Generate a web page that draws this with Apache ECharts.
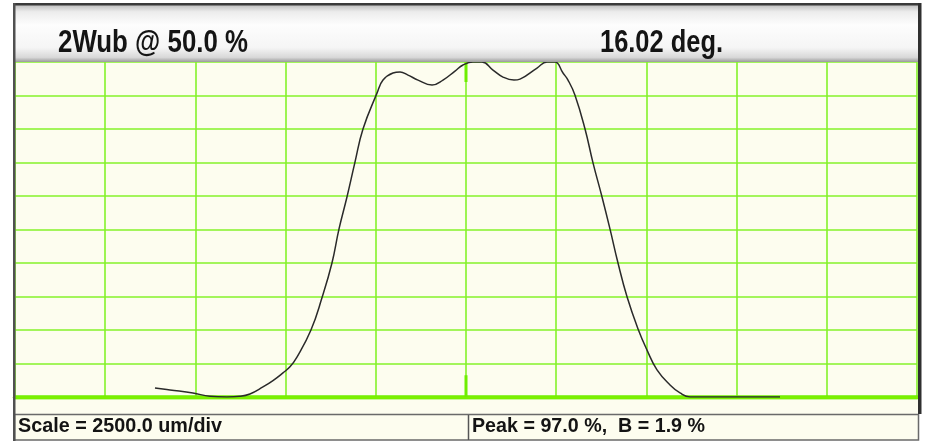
<!DOCTYPE html>
<html><head><meta charset="utf-8">
<script src="https://cdn.jsdelivr.net/npm/echarts@6/dist/echarts.min.js"></script>
<style>html,body{margin:0;padding:0;background:#fff;}#c{width:926px;height:442px;}</style>
</head><body><div id="c"></div>
<script>
// ---- data (x in um, y in % of peak) ----
const xUm = [-8620,-8205,-7568,-7097,-6625,-6265,-5988,-5628,-5350,-5073,-4879,-4685,-4297,-3992,-3715,-3521,-3299,-3077,-2855,-2467,-2300,-2024,-1829,-1608,-1330,-942,-638,-305,-83,194,444,748,1026,1330,1497,1968,2245,2467,2689,2827,3021,3299,3520,3770,3992,4213,4463,4768,5017,5294,5655,5932,6209,8703];
const yPct = [2.7,2.1,1.2,0.2,0,0.2,0.9,3.0,4.9,7.2,9.0,11.9,20.0,29.6,40.0,50.1,59.7,70.1,80.0,90.7,94.6,96.7,97.0,96.1,94.6,93.1,94.6,97.3,99.1,100,100,97.6,95.5,94.6,94.9,98.2,100,100,96.7,94.6,90.1,80.0,69.9,59.7,50.1,40.0,29.9,20.3,14.0,8.1,3.6,1.2,0,0];
const centerMarkLow = [[0,0],[0,6.5]];
const centerMarkHigh = [[0,94],[0,100]];
const xMin = -12500, xMax = 12500, xStep = 2500;
const yMin = 0, yMax = 100, yStep = 10;
const headerLeft = '2Wub @ 50.0 %';
const headerRight = '16.02 deg.';
const footerLeft = 'Scale = 2500.0 um/div';
const footerRight = 'Peak = 97.0 %,  B = 1.9 %';

// ---- helpers ----
const ctx = document.createElement('canvas').getContext('2d');
function fitScale(text, weight, size, family, target) {
  ctx.font = weight + ' ' + size + 'px ' + family;
  return target / ctx.measureText(text).width;
}
const FAM = '"Liberation Sans", Arial, sans-serif';
const IVORY = '#FDFDEF';
const GREEN = '#84F22A';

const chart = echarts.init(document.getElementById('c'), null, {renderer: 'canvas'});
const curve = xUm.map((x, i) => [x, yPct[i]]);

function txt(text, x, y, size, weight, target, sy) {
  return {
    type: 'text', x: x, y: y, z: 100,
    scaleX: fitScale(text, weight, size, FAM, target), scaleY: sy || 1,
    style: {text: text, fontSize: size, fontWeight: weight, fontFamily: FAM,
            fill: '#141414', align: 'left', verticalAlign: 'middle'}
  };
}

chart.setOption({
  animation: false,
  backgroundColor: '#ffffff',
  grid: {left: 15, right: 9, top: 62, bottom: 45, show: true,
         backgroundColor: IVORY, borderWidth: 0},
  xAxis: [{
    type: 'value', min: xMin, max: xMax, interval: xStep,
    axisLabel: {show: false}, axisTick: {show: false},
    axisLine: {show: true, onZero: false, lineStyle: {color: '#6EEE00', width: 4.5}},
    splitLine: {show: true, lineStyle: {color: GREEN, width: 1.6}}
  }, {
    type: 'value', position: 'top', min: xMin, max: xMax, interval: xStep,
    axisLabel: {show: false}, axisTick: {show: false},
    axisLine: {show: true, lineStyle: {color: '#7CF000', width: 2.5}},
    splitLine: {show: false}
  }],
  yAxis: {
    type: 'value', min: yMin, max: yMax, interval: yStep,
    axisLabel: {show: false}, axisTick: {show: false}, axisLine: {show: false},
    splitLine: {show: true, lineStyle: {color: GREEN, width: 1.6}}
  },
  series: [
    {type: 'line', data: centerMarkLow, showSymbol: false, silent: true, z: 1,
     lineStyle: {color: '#6EEE00', width: 3}},
    {type: 'line', data: centerMarkHigh, showSymbol: false, silent: true, z: 1,
     lineStyle: {color: '#6EEE00', width: 3}},
    {type: 'line', data: curve, showSymbol: false, smooth: 0.45, z: 5,
     lineStyle: {color: '#2a2a2a', width: 1.5}}
  ],
  graphic: [
    // header band
    {type: 'rect', z: 50, shape: {x: 15, y: 5, width: 903, height: 57},
     style: {fill: new echarts.graphic.LinearGradient(0, 0, 0, 1, [
       {offset: 0, color: '#bfbfbf'}, {offset: 0.12, color: '#ececec'},
       {offset: 0.35, color: '#fdfdfd'}, {offset: 0.75, color: '#f5f5f5'},
       {offset: 0.92, color: '#d8d8d8'}, {offset: 1, color: '#9a9a9a'}])}},
    // strip under plot
    {type: 'rect', z: 50, shape: {x: 15, y: 399.5, width: 903, height: 15}, style: {fill: IVORY}},
    // footer
    {type: 'rect', z: 50, shape: {x: 14.5, y: 414.5, width: 904, height: 25.5},
     style: {fill: IVORY, stroke: '#6a6a6a', lineWidth: 1.5}},
    {type: 'line', z: 51, shape: {x1: 468.5, y1: 415, x2: 468.5, y2: 440},
     style: {stroke: '#555', lineWidth: 1.5}},
    // frame
    {type: 'rect', z: 60, shape: {x: 13, y: 3, width: 908, height: 2.5}, style: {fill: '#3a3a3a'}},
    {type: 'rect', z: 60, shape: {x: 13, y: 3, width: 2.5, height: 438}, style: {fill: '#505050'}},
    {type: 'rect', z: 60, shape: {x: 918, y: 3, width: 3.5, height: 411}, style: {fill: '#303030'}},
    // texts
    txt(headerLeft, 58, 43, 32, 'bold', 190),
    txt(headerRight, 600, 43, 32, 'bold', 123),
    txt(footerLeft, 18, 427, 19, 'bold', 204, 1.05),
    txt(footerRight, 472, 427, 19, 'bold', 233, 1.05)
  ]
});
</script>
</body></html>
